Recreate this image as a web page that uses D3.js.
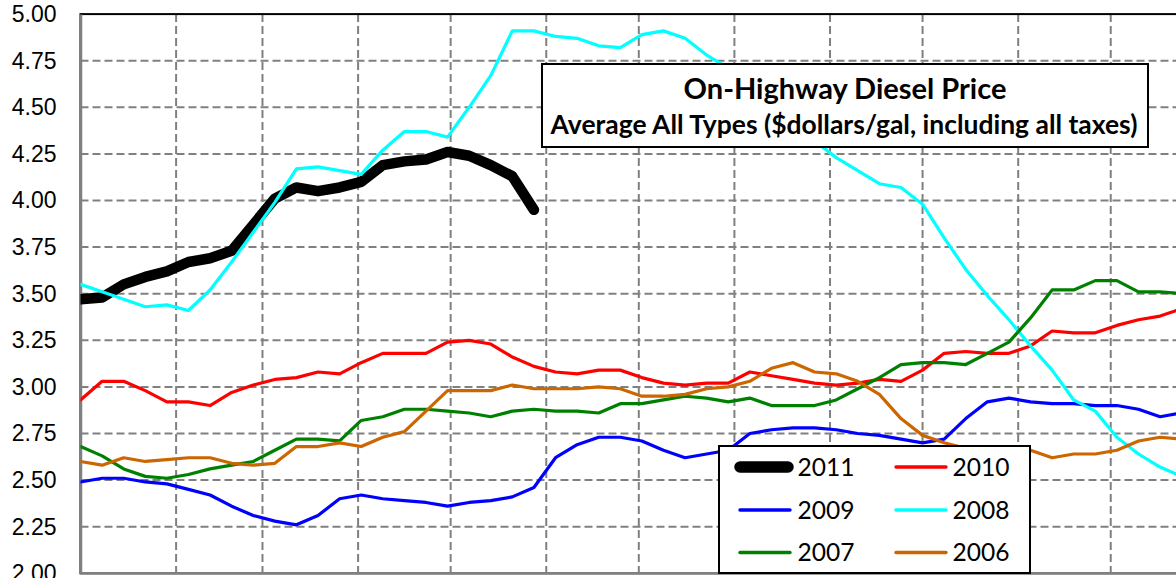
<!DOCTYPE html>
<html>
<head>
<meta charset="utf-8">
<script src="https://cdn.jsdelivr.net/npm/d3@7"></script>
<style>
  body { margin: 0; background: #fff; }
  svg { display: block; }
</style>
</head>
<body>
<svg width="1176" height="578"></svg>
<script>
// weekly prices, one point per week from the first week of January
const p2011 = [3.47, 3.48, 3.55, 3.59, 3.62, 3.67, 3.69, 3.73, 3.87, 4.01, 4.07, 4.05, 4.07, 4.10, 4.19, 4.21,
  4.22, 4.26, 4.24, 4.19, 4.13, 3.95];
const p2010 = [2.93, 3.03, 3.03, 2.98, 2.92, 2.92, 2.90, 2.97, 3.01, 3.04, 3.05, 3.08, 3.07, 3.13, 3.18, 3.18,
  3.18, 3.24, 3.25, 3.23, 3.16, 3.11, 3.08, 3.07, 3.09, 3.09, 3.05, 3.02, 3.01, 3.02, 3.02, 3.08, 3.06, 3.04,
  3.02, 3.01, 3.02, 3.04, 3.03, 3.09, 3.18, 3.19, 3.18, 3.18, 3.22, 3.30, 3.29, 3.29, 3.33, 3.36, 3.38, 3.42];
const p2009 = [2.49, 2.51, 2.51, 2.49, 2.48, 2.45, 2.42, 2.36, 2.31, 2.28, 2.26, 2.31, 2.40, 2.42, 2.40, 2.39,
  2.38, 2.36, 2.38, 2.39, 2.41, 2.46, 2.62, 2.69, 2.73, 2.73, 2.71, 2.66, 2.62, 2.64, 2.66, 2.75, 2.77, 2.78,
  2.78, 2.77, 2.75, 2.74, 2.72, 2.70, 2.72, 2.83, 2.92, 2.94, 2.92, 2.91, 2.91, 2.90, 2.90, 2.88, 2.84, 2.86];
const p2008 = [3.55, 3.51, 3.47, 3.43, 3.44, 3.41, 3.52, 3.67, 3.83, 3.99, 4.17, 4.18, 4.16, 4.14, 4.27, 4.37,
  4.37, 4.34, 4.50, 4.67, 4.91, 4.91, 4.88, 4.87, 4.83, 4.82, 4.89, 4.91, 4.87, 4.78, 4.71, 4.62, 4.51, 4.41,
  4.32, 4.23, 4.16, 4.09, 4.07, 3.98, 3.80, 3.63, 3.49, 3.36, 3.22, 3.09, 2.93, 2.87, 2.73, 2.64, 2.57, 2.52];
const p2007 = [2.68, 2.63, 2.56, 2.52, 2.51, 2.53, 2.56, 2.58, 2.60, 2.66, 2.72, 2.72, 2.71, 2.82, 2.84, 2.88,
  2.88, 2.87, 2.86, 2.84, 2.87, 2.88, 2.87, 2.87, 2.86, 2.91, 2.91, 2.93, 2.95, 2.94, 2.92, 2.94, 2.90, 2.90,
  2.90, 2.93, 2.99, 3.05, 3.12, 3.13, 3.13, 3.12, 3.18, 3.24, 3.37, 3.52, 3.52, 3.57, 3.57, 3.51, 3.51, 3.50];
const p2006 = [2.60, 2.58, 2.62, 2.60, 2.61, 2.62, 2.62, 2.59, 2.58, 2.59, 2.68, 2.68, 2.70, 2.68, 2.73, 2.76,
  2.87, 2.98, 2.98, 2.98, 3.01, 2.99, 2.99, 2.99, 3.00, 2.99, 2.95, 2.95, 2.96, 2.99, 3.00, 3.03, 3.10, 3.13,
  3.08, 3.07, 3.03, 2.96, 2.83, 2.74, 2.70, 2.67, 2.65, 2.64, 2.66, 2.62, 2.64, 2.64, 2.66, 2.71, 2.73, 2.72];

const years = ['2011', '2010', '2009', '2008', '2007', '2006'];
const seriesValues = [p2011, p2010, p2009, p2008, p2007, p2006];
const colors = ['#000000', '#ff0000', '#0000ff', '#00ffff', '#008000', '#cc6600'];
const widths = [10.5, 3.2, 3.2, 3.2, 3.2, 3.2];

const yTicks = d3.range(2, 5.001, 0.25);
const monthStarts = [0, 31, 59, 90, 120, 151, 181, 212, 243, 273, 304, 334, 365];

const title = 'On-Highway Diesel Price';
const subtitle = 'Average All Types ($dollars/gal, including all taxes)';

const margin = { left: 80.5, top: 14.1 };
const innerWidth = 365 * 3.0845;
const innerHeight = 559.2;

const svg = d3.select('svg');
const g = svg.append('g').attr('transform', `translate(${margin.left},${margin.top})`);

const x = d3.scaleLinear().domain([0, 365]).range([0, innerWidth]);
const y = d3.scaleLinear().domain([2, 5]).range([innerHeight, 0]);

// grid
g.selectAll('.hgrid').data(yTicks.filter(d => d > 2 && d < 5)).enter()
  .append('line')
  .attr('x1', 0).attr('x2', innerWidth)
  .attr('y1', d => y(d)).attr('y2', d => y(d))
  .attr('stroke', '#808080').attr('stroke-width', 2).attr('stroke-dasharray', '8,4');
g.selectAll('.vgrid').data(monthStarts.filter(d => d > 0 && d < 365)).enter()
  .append('line')
  .attr('x1', d => x(d)).attr('x2', d => x(d))
  .attr('y1', 0).attr('y2', innerHeight)
  .attr('stroke', '#808080').attr('stroke-width', 2).attr('stroke-dasharray', '8,4');

// plot border
g.append('rect')
  .attr('x', 0).attr('y', 0).attr('width', innerWidth).attr('height', innerHeight)
  .attr('fill', 'none').attr('stroke', '#000').attr('stroke-width', 2);

// y axis
const yAxis = d3.axisLeft(y).tickValues(yTicks).tickFormat(d3.format('.2f')).tickSize(0).tickPadding(24);
const yAxisG = g.append('g').call(yAxis);
yAxisG.select('.domain').attr('stroke', '#808080').attr('stroke-width', 2.5);
yAxisG.selectAll('text')
  .attr('font-family', '"Liberation Sans", Arial, sans-serif')
  .attr('font-size', 23).attr('fill', '#000');

g.append('line')
  .attr('x1', 0).attr('x2', innerWidth).attr('y1', innerHeight).attr('y2', innerHeight)
  .attr('stroke', '#808080').attr('stroke-width', 2.5);

// lines
g.append('clipPath').attr('id', 'plotclip')
  .append('rect').attr('x', 0).attr('y', 0).attr('width', innerWidth).attr('height', innerHeight);

const line = d3.line()
  .x((d, i) => x(i * 7))
  .y(d => y(d));

const linesG = g.append('g').attr('clip-path', 'url(#plotclip)');
seriesValues.forEach((vals, k) => {
  linesG.append('path')
    .attr('d', line(vals))
    .attr('fill', 'none')
    .attr('stroke', colors[k])
    .attr('stroke-width', widths[k])
    .attr('stroke-linejoin', 'round')
    .attr('stroke-linecap', 'round');
});

const textFont = 'Lato, "Open Sans", sans-serif';
const fitText = (sel, target) => {
  const fs = +sel.attr('font-size');
  const len = sel.node().getComputedTextLength();
  sel.attr('font-size', fs * target / len);
};

// title box
const tb = svg.append('g');
tb.append('rect')
  .attr('x', 542).attr('y', 64).attr('width', 606).attr('height', 83)
  .attr('fill', '#fff').attr('stroke', '#000').attr('stroke-width', 2);
const t1 = tb.append('text')
  .attr('x', 845).attr('y', 98.5)
  .attr('text-anchor', 'middle')
  .attr('font-family', textFont).attr('font-weight', 'bold')
  .attr('font-size', 26).text(title);
fitText(t1, 323);
const t2 = tb.append('text')
  .attr('x', 844).attr('y', 133.5)
  .attr('text-anchor', 'middle')
  .attr('font-family', textFont).attr('font-weight', 'bold')
  .attr('font-size', 20).text(subtitle);
fitText(t2, 587);

// legend
const lg = svg.append('g');
lg.append('rect')
  .attr('x', 719).attr('y', 446).attr('width', 311).attr('height', 127)
  .attr('fill', '#fff').attr('stroke', '#000').attr('stroke-width', 2);
const rowY = [467, 510, 552.5];
const colX = [740, 896];
const textX = [797.5, 952.5];
let legendFs = null;
years.forEach((yr, k) => {
  const r = Math.floor(k / 2), c = k % 2;
  lg.append('line')
    .attr('x1', colX[c]).attr('x2', colX[c] + (k === 0 ? 48 : 50))
    .attr('y1', rowY[r]).attr('y2', rowY[r])
    .attr('stroke', colors[k])
    .attr('stroke-width', k === 0 ? 11.5 : 3.4)
    .attr('stroke-linecap', 'round');
  const t = lg.append('text')
    .attr('x', textX[c]).attr('y', rowY[r])
    .attr('dy', '0.35em')
    .attr('font-family', textFont)
    .attr('font-size', 28).text(yr);
  if (legendFs === null) {
    fitText(t, 57);
    legendFs = +t.attr('font-size');
  } else {
    t.attr('font-size', legendFs);
  }
});
</script>
</body>
</html>
